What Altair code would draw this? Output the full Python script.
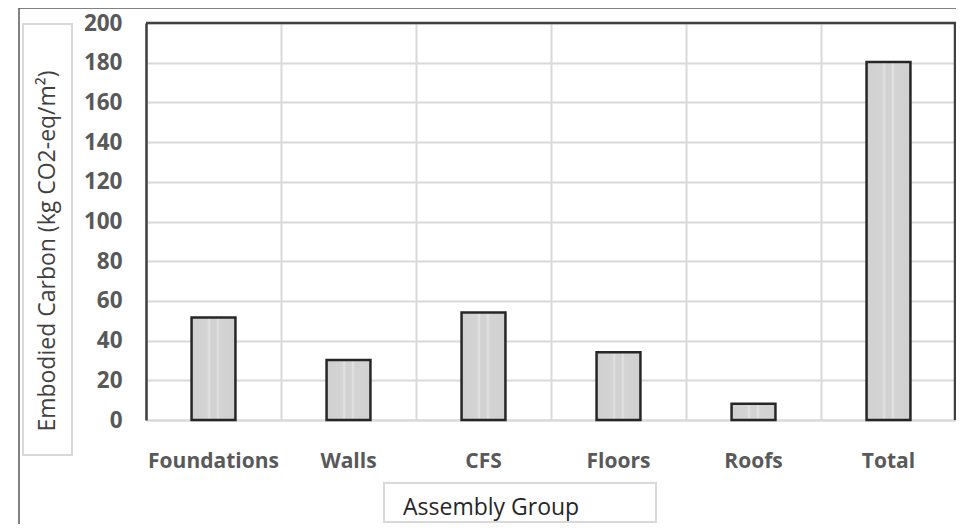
import altair as alt
import pandas as pd

categories = ["Foundations", "Walls", "CFS", "Floors", "Roofs", "Total"]
values = [51.6, 30.2, 54.2, 34.1, 8.2, 180.4]
y_ticks = [0, 20, 40, 60, 80, 100, 120, 140, 160, 180, 200]
y_title = "Embodied Carbon (kg CO2-eq/m²)"
x_title = "Assembly Group"

W, H = 810, 397
FONT = "Open Sans"

df = pd.DataFrame({"group": categories, "value": values})
one = pd.DataFrame({"k": [0]})

stripe = alt.Gradient(
    gradient="linear", x1=0, x2=1, y1=0, y2=0,
    stops=[
        alt.GradientStop(color="#d0d0d0", offset=0),
        alt.GradientStop(color="#d4d4d4", offset=0.36),
        alt.GradientStop(color="#e4e4e4", offset=0.40),
        alt.GradientStop(color="#d2d2d2", offset=0.44),
        alt.GradientStop(color="#d2d2d2", offset=0.56),
        alt.GradientStop(color="#e4e4e4", offset=0.60),
        alt.GradientStop(color="#d4d4d4", offset=0.64),
        alt.GradientStop(color="#d0d0d0", offset=1),
    ],
)

bars = alt.Chart(df).mark_bar(
    width=alt.RelativeBandSize(0.325), fill=stripe,
    stroke="#262626", strokeWidth=2.5,
).encode(
    x=alt.X("group:N", sort=categories,
            scale=alt.Scale(paddingInner=0, paddingOuter=0),
            axis=alt.Axis(title=None, grid=True, gridColor="#d9d9d9", gridWidth=2,
                          bandPosition=0, ticks=False, domainColor="#d9d9d9",
                          domainWidth=2, labelFont=FONT, labelFontWeight="bold",
                          labelFontSize=21, labelColor="#595959", labelPadding=30,
                          labelAngle=0)),
    y=alt.Y("value:Q", scale=alt.Scale(domain=[0, 200], nice=False),
            axis=alt.Axis(title=None, values=y_ticks, grid=True, gridColor="#d9d9d9",
                          gridWidth=2, ticks=False, domainColor="#404040",
                          domainWidth=2.5, labelFont=FONT, labelFontWeight="bold",
                          labelFontSize=22.5, labelColor="#595959", labelPadding=24)),
)

frame_top = alt.Chart(one).mark_rule(color="#404040", strokeWidth=2.5).encode(
    x=alt.value(0), x2=alt.value(W), y=alt.value(0))
frame_right = alt.Chart(one).mark_rule(color="#404040", strokeWidth=2.5).encode(
    x=alt.value(W - 1), y=alt.value(0), y2=alt.value(H))

outer_left = alt.Chart(one).mark_rule(color="#595959", strokeWidth=1.5).encode(
    x=alt.value(-127), y=alt.value(-15), y2=alt.value(510))
outer_top = alt.Chart(one).mark_rule(color="#595959", strokeWidth=1.5).encode(
    x=alt.value(-127), x2=alt.value(W + 10), y=alt.value(-15))

ybox = alt.Chart(one).mark_rect(fill="white", stroke="#d9d9d9", strokeWidth=2).encode(
    x=alt.value(-123), x2=alt.value(-74), y=alt.value(1), y2=alt.value(432))
ytext = alt.Chart(one).mark_text(
    text=y_title, angle=270, font=FONT, fontSize=23, color="#404040",
    align="center", baseline="middle").encode(x=alt.value(-98), y=alt.value(228))

xbox = alt.Chart(one).mark_rect(fill="white", stroke="#d9d9d9", strokeWidth=2).encode(
    x=alt.value(238), x2=alt.value(510), y=alt.value(460), y2=alt.value(499))
xtext = alt.Chart(one).mark_text(
    text=x_title, font=FONT, fontSize=23, color="#262626",
    align="left", baseline="alphabetic").encode(x=alt.value(257), y=alt.value(492))

chart = alt.layer(
    bars, frame_top, frame_right, outer_left, outer_top, ybox, ytext, xbox, xtext
).properties(
    width=W, height=H,
    autosize=alt.AutoSizeParams(type="none"),
    padding={"left": 138, "top": 15, "right": 0, "bottom": 104},
).configure_view(stroke=None).configure(background="white")

chart.save("out.html", embed_options={"renderer": "svg", "actions": False})
